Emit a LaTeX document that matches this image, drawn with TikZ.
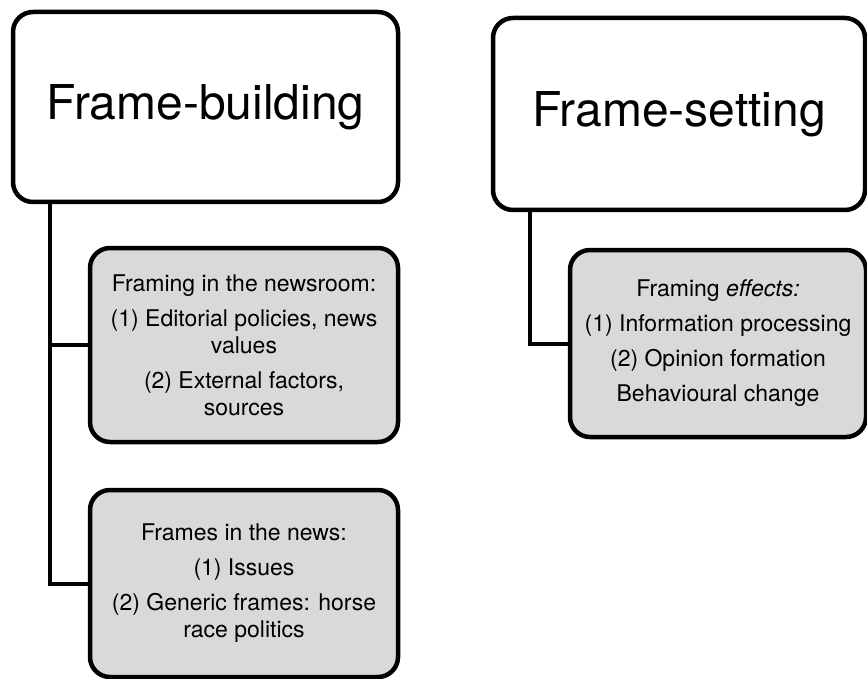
\documentclass[tikz,border=0pt]{standalone}
\usepackage{fontspec}
\setmainfont{TeX Gyre Heros}
\begin{document}
\begin{tikzpicture}[x=1pt,y=-1pt,
  titlebox/.style={draw=black, line width=4.5pt, rounded corners=20pt, fill=white,
    align=center, inner sep=0pt, font=\fontsize{48}{56}\selectfont},
  detailbox/.style={draw=black, line width=4.5pt, rounded corners=20pt, fill=boxgray,
    align=center, inner sep=0pt, font=\fontsize{23}{27}\selectfont},
  link/.style={draw=black, line width=4pt}]
\definecolor{boxgray}{HTML}{D9D9D9}
\useasboundingbox (0,0) rectangle (867,679);
\begin{scope}
\clip (0,0) rectangle (867,679);
% headings
\node[titlebox, minimum width=385pt, minimum height=190pt] (fb) at (205.5,107) {Frame-building};
\node[titlebox, minimum width=372pt, minimum height=192pt] (fs) at (679,114) {Frame-setting};
% detail boxes
\node[detailbox, minimum width=308pt, minimum height=194pt] (room) at (244,345)
  {Framing in the newsroom:\\[8pt]
   (1) Editorial policies, news\\ values\\[8pt]
   (2) External factors,\\ sources};
\node[detailbox, minimum width=308pt, minimum height=187pt] (news) at (244,583.5)
  {Frames in the news:\\[8pt]
   (1) Issues\\[8pt]
   (2) Generic frames: horse\\ race politics};
\node[detailbox, minimum width=296pt, minimum height=187pt] (eff) at (718,343.5)
  {Framing \textit{effects:}\\[8pt]
   (1) Information processing\\[8pt]
   (2) Opinion formation\\[8pt]
   Behavioural change};
% connectors
\draw[link] ([xshift=39pt]fb.south west) |- (room.west);
\draw[link] ([xshift=39pt]fb.south west) |- (news.west);
\draw[link] ([xshift=39pt]fs.south west) |- (eff.west);
\end{scope}
\end{tikzpicture}
\end{document}
